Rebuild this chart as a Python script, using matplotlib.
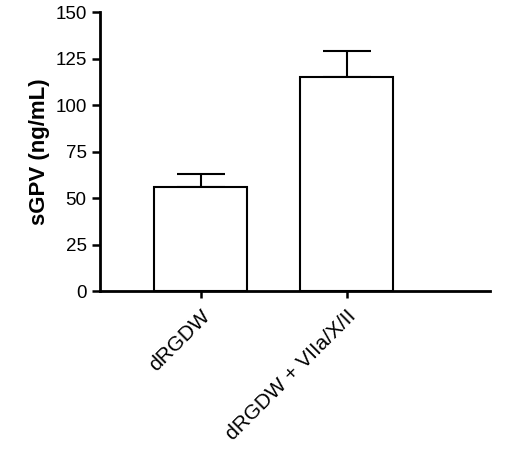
import matplotlib
matplotlib.use("Agg")
import matplotlib.pyplot as plt

categories = ["dRGDW", "dRGDW + VIIa/X/II"]
means = [56, 115]
errors = [7, 14]

plt.rcParams["font.family"] = "Liberation Sans"

fig = plt.figure(figsize=(5.2, 4.5), dpi=100)
ax = fig.add_axes([0.192, 0.353, 0.75, 0.62])

x = range(len(categories))
ax.bar(x, means, width=0.64, color="white", edgecolor="black", linewidth=1.5, zorder=2)
ax.errorbar(x, means, yerr=[[0, 0], errors], fmt="none", ecolor="black",
            elinewidth=1.5, capsize=17, capthick=1.5, zorder=1)

ax.set_xlim(-0.69, 1.98)
ax.set_ylim(0, 150)
ax.set_yticks([0, 25, 50, 75, 100, 125, 150])
ax.set_xticks(list(x))
ax.set_xticklabels(categories, rotation=45, ha="right", rotation_mode="anchor", fontsize=15)
ax.tick_params(axis="y", labelsize=13.5, width=1.8, length=6)
ax.tick_params(axis="x", width=1.8, length=5, pad=6)
ax.set_ylabel("sGPV (ng/mL)", fontsize=16, fontweight="bold")
for s in ["top", "right"]:
    ax.spines[s].set_visible(False)
for s in ["left", "bottom"]:
    ax.spines[s].set_linewidth(2)

fig.savefig("out.png", dpi=100)
